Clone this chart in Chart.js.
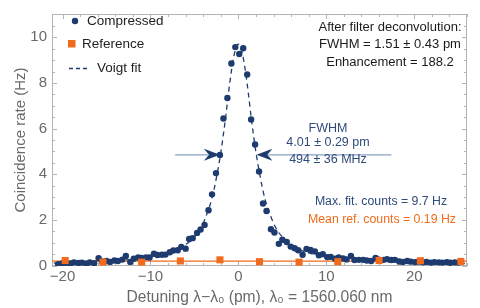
<!DOCTYPE html>
<html>
<head>
<meta charset="utf-8">
<script src="https://cdn.jsdelivr.net/npm/chart.js@4/dist/chart.umd.min.js"></script>
<style>
html, body { margin: 0; padding: 0; background: #fff; }
#wrap { width: 480px; height: 308px; }
</style>
</head>
<body>
<div id="wrap"><canvas id="grafico"></canvas></div>
<script>
// dados
const detuning = [
    -20.5, -20.0, -19.6, -19.1, -18.7, -18.2, -17.8, -17.3, -16.9, -16.4,
    -15.9, -15.5, -15.0, -14.6, -14.1, -13.7, -13.2, -12.8, -12.3, -11.9,
    -11.4, -11.0, -10.5, -10.1, -9.6, -9.2, -8.7, -8.3, -7.8, -7.4,
    -6.9, -6.5, -6.0, -5.6, -5.2, -4.7, -4.3, -3.85, -3.4, -3.0,
    -2.55, -2.1, -1.7, -1.25, -0.8, -0.35, 0.1, 0.55, 1.0, 1.45,
    1.9, 2.35, 2.8, 3.2, 3.7, 4.1, 4.6, 5.0, 5.5, 5.95,
    6.4, 6.8, 7.3, 7.75, 8.2, 8.7, 9.15, 9.6, 10.1, 10.5,
    11.0, 11.4, 11.9, 12.3, 12.8, 13.2, 13.7, 14.2, 14.6, 15.1,
    15.6, 16.0, 16.5, 16.9, 17.4, 17.8, 18.3, 18.7, 19.2, 19.6,
    20.1, 20.5, 21.0, 21.4, 21.9, 22.3, 22.8, 23.2, 23.7, 24.1,
    24.6, 25.0
];
const compressed = [
    0.06, 0.10, 0.12, 0.09, 0.14, 0.11, 0.13, 0.08, 0.14, 0.10,
    0.32, 0.18, 0.20, 0.16, 0.22, 0.20, 0.26, 0.42, 0.16, 0.30,
    0.35, 0.33, 0.36, 0.35, 0.52, 0.46, 0.47, 0.48, 0.58, 0.66,
    0.67, 0.82, 0.74, 1.16, 1.20, 1.43, 1.58, 1.78, 2.42, 3.12,
    4.05, 4.84, 6.44, 7.34, 8.85, 9.57, 9.27, 9.52, 8.37, 6.40,
    5.30, 4.12, 2.72, 2.39, 1.59, 1.45, 0.95, 1.13, 1.03, 0.83,
    0.76, 0.67, 0.47, 0.73, 0.68, 0.62, 0.45, 0.50, 0.37, 0.38,
    0.30, 0.36, 0.31, 0.27, 0.42, 0.24, 0.25, 0.25, 0.22, 0.20,
    0.33, 0.26, 0.25, 0.28, 0.24, 0.25, 0.18, 0.16, 0.20, 0.17,
    0.15, 0.17, 0.14, 0.16, 0.13, 0.15, 0.14, 0.13, 0.15, 0.12,
    0.14, 0.13
];
const refDetuning = [-19.7, -15.4, -11.0, -6.6, -2.1, 2.4, 6.9, 11.3, 16.0, 20.7, 25.3];
const refRate = [0.22, 0.15, 0.15, 0.20, 0.25, 0.17, 0.15, 0.17, 0.22, 0.21, 0.18];
const fitDetuning = [-21, -16, -13, -11, -9, -8, -7, -6, -5, -4.5, -4, -3.5, -3, -2.5, -2, -1.5, -1, -0.5, 0,
    0.5, 1, 1.5, 2, 2.5, 3, 3.5, 4, 4.5, 5, 6, 7, 8, 9, 11, 13, 16, 20, 26];
const fitRate = [0.11, 0.17, 0.24, 0.31, 0.45, 0.55, 0.70, 0.92, 1.25, 1.50, 1.85, 2.35, 2.95, 3.85, 4.95, 6.35, 7.95, 9.2, 9.7,
    9.2, 7.95, 6.35, 4.95, 3.85, 2.95, 2.35, 1.85, 1.50, 1.25, 0.92, 0.70, 0.55, 0.45, 0.31, 0.24, 0.17, 0.12, 0.09];
const meanRef = 0.19;
const xTicks = [-20, -10, 0, 10, 20];
const yTicks = [0, 2, 4, 6, 8, 10];

const AZUL = '#1d3b6e';
const LARANJA = '#f26a1b';
const CINZA = '#6a6a6a';
const FONTE = '"Liberation Sans", Arial, sans-serif';

const pares = (xs, ys) => xs.map((x, i) => ({ x, y: ys[i] }));

// moldura estilo Mathematica com ticks para dentro
const moldura = {
    id: 'moldura',
    beforeDatasetsDraw(chart) {
        const { ctx, chartArea: a, scales: { x, y } } = chart;
        ctx.save();
        ctx.strokeStyle = '#b4b4b4';
        ctx.lineWidth = 1;
        ctx.strokeRect(a.left + 0.5, a.top + 0.5, a.right - a.left - 1, a.bottom - a.top - 1);
        ctx.beginPath();
        for (let v = -20; v <= 26; v += 2) {
            const px = Math.round(x.getPixelForValue(v)) + 0.5;
            const len = v % 10 === 0 ? 5 : 3;
            ctx.moveTo(px, a.bottom); ctx.lineTo(px, a.bottom - len);
            ctx.moveTo(px, a.top); ctx.lineTo(px, a.top + len);
        }
        for (let v = 0; v <= 11; v += 0.5) {
            const py = Math.round(y.getPixelForValue(v)) + 0.5;
            const len = v % 2 === 0 ? 5 : 3;
            ctx.moveTo(a.left, py); ctx.lineTo(a.left + len, py);
            ctx.moveTo(a.right, py); ctx.lineTo(a.right - len, py);
        }
        ctx.stroke();
        ctx.restore();
    }
};

function pontaSeta(ctx, tx, ty, dir) {
    // dir = 1 aponta para a direita, -1 para a esquerda
    ctx.beginPath();
    ctx.moveTo(tx, ty);
    ctx.lineTo(tx - dir * 16, ty - 6);
    ctx.lineTo(tx - dir * 11, ty);
    ctx.lineTo(tx - dir * 16, ty + 6);
    ctx.closePath();
    ctx.fill();
}

const anotacoes = {
    id: 'anotacoes',
    afterDraw(chart) {
        const { ctx, scales: { x, y } } = chart;
        ctx.save();

        // legenda
        ctx.textBaseline = 'middle';
        ctx.textAlign = 'left';
        ctx.fillStyle = AZUL;
        ctx.beginPath(); ctx.arc(75, 21, 3.2, 0, Math.PI * 2); ctx.fill();
        ctx.fillStyle = LARANJA;
        ctx.fillRect(68, 40, 7.5, 7.5);
        ctx.strokeStyle = AZUL; ctx.lineWidth = 1.3; ctx.setLineDash([4, 3]);
        ctx.beginPath(); ctx.moveTo(69, 68.5); ctx.lineTo(88, 68.5); ctx.stroke();
        ctx.setLineDash([]);
        ctx.font = '13.5px ' + FONTE;
        ctx.fillStyle = '#222';
        ctx.fillText('Compressed', 87, 21);
        ctx.fillText('Reference', 82, 44);
        ctx.fillText('Voigt fit', 97, 68);

        // texto canto superior direito
        ctx.font = '13px ' + FONTE;
        ctx.textAlign = 'center';
        ctx.fillStyle = '#1a1a1a';
        ctx.fillText('After filter deconvolution:', 390, 27);
        ctx.fillText('FWHM = 1.51 \u00b1 0.43 pm', 390, 44);
        ctx.fillText('Enhancement = 188.2', 390, 62);

        // setas FWHM
        const meia = y.getPixelForValue(4.85);
        const xe = x.getPixelForValue(-2.1), xd = x.getPixelForValue(2.05);
        ctx.strokeStyle = '#8aa2c4'; ctx.lineWidth = 1.3;
        ctx.beginPath();
        ctx.moveTo(x.getPixelForValue(-7.2), meia); ctx.lineTo(xe - 12, meia);
        ctx.moveTo(xd + 12, meia); ctx.lineTo(x.getPixelForValue(17.4), meia);
        ctx.stroke();
        ctx.fillStyle = AZUL;
        pontaSeta(ctx, xe, meia, 1);
        pontaSeta(ctx, xd, meia, -1);

        ctx.font = '12.5px ' + FONTE;
        ctx.fillStyle = '#2e4b7c';
        ctx.fillText('FWHM', 328, 129);
        ctx.fillText('4.01 \u00b1 0.29 pm', 328, 143);
        ctx.fillText('494 \u00b1 36 MHz', 328, 160);
        ctx.font = '12.3px ' + FONTE;
        ctx.fillText('Max. fit. counts = 9.7 Hz', 381, 202);
        ctx.fillStyle = LARANJA;
        ctx.fillText('Mean ref. counts = 0.19 Hz', 382, 220);
        ctx.restore();
    }
};

new Chart(document.getElementById('grafico').getContext('2d'), {
    type: 'scatter',
    data: {
        datasets: [
            {
                label: 'Voigt fit', type: 'line', data: pares(fitDetuning, fitRate),
                borderColor: AZUL, borderWidth: 1.3, borderDash: [5, 4], pointRadius: 0,
                cubicInterpolationMode: 'monotone', fill: false, order: 4
            },
            {
                label: 'Mean ref', type: 'line', data: [{ x: -22, y: meanRef }, { x: 27, y: meanRef }],
                borderColor: LARANJA, borderWidth: 1.3, pointRadius: 0, fill: false, order: 3
            },
            {
                label: 'Compressed', data: pares(detuning, compressed),
                backgroundColor: AZUL, borderColor: AZUL, pointRadius: 3.2, borderWidth: 0, order: 2
            },
            {
                label: 'Reference', data: pares(refDetuning, refRate),
                pointStyle: 'rect', backgroundColor: LARANJA, borderColor: LARANJA,
                pointRadius: 5, borderWidth: 0, order: 1
            }
        ]
    },
    options: {
        responsive: true, maintainAspectRatio: false, animation: false,
        layout: { padding: { top: 5, right: 13, left: 0, bottom: 0 } },
        plugins: { legend: { display: false }, tooltip: { enabled: false } },
        scales: {
            x: {
                type: 'linear', min: -21.2, max: 26,
                afterBuildTicks: s => { s.ticks = xTicks.map(v => ({ value: v })); },
                afterFit: s => { s.height = 42; },
                grid: { display: false, drawTicks: false }, border: { display: false },
                ticks: {
                    color: CINZA, font: { size: 15, family: FONTE }, padding: 2,
                    callback: v => v < 0 ? '\u2212' + Math.abs(v) : String(v)
                },
                title: {
                    display: true, text: 'Detuning \u03bb\u2212\u03bb\u2080 (pm), \u03bb\u2080 = 1560.060 nm',
                    color: CINZA, font: { size: 15.6, family: FONTE }, padding: { top: 0, bottom: 1 }
                }
            },
            y: {
                min: -0.02, max: 11.02,
                afterBuildTicks: s => { s.ticks = yTicks.map(v => ({ value: v })); },
                afterFit: s => { s.width = 52; },
                grid: { display: false, drawTicks: false }, border: { display: false },
                ticks: { color: CINZA, font: { size: 15, family: FONTE }, padding: 5 },
                title: {
                    display: true, text: 'Coincidence rate (Hz)',
                    color: CINZA, font: { size: 15, family: FONTE }, padding: { top: 12, bottom: 0 }
                }
            }
        }
    },
    plugins: [moldura, anotacoes]
});
</script>
</body>
</html>
